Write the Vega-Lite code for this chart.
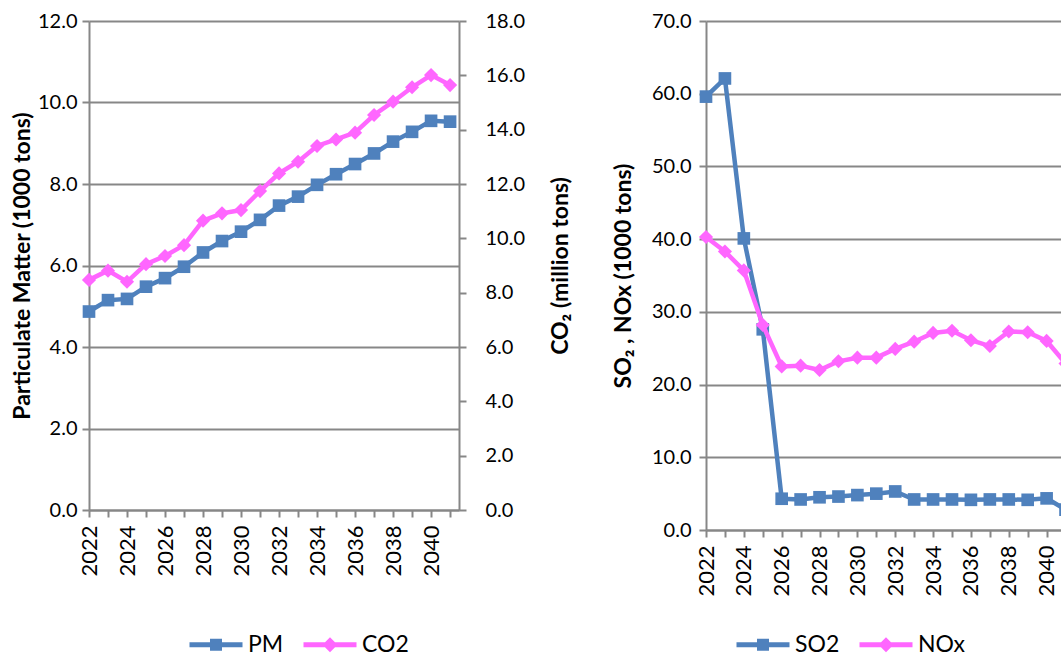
{
  "$schema": "https://vega.github.io/schema/vega-lite/v6.json",
  "padding": {"left": 10, "top": 11, "right": 0, "bottom": 0},
  "config": {
    "font": "Lato",
    "view": {"stroke": null},
    "axis": {
      "labelFont": "Lato", "labelFontSize": 20, "labelColor": "#000000",
      "titleFont": "Lato", "titleFontSize": 23, "titleFontWeight": "bold", "titleColor": "#000000",
      "domainColor": "#878787", "domainWidth": 2, "tickColor": "#878787", "tickWidth": 2, "tickSize": 7,
      "gridColor": "#878787", "gridWidth": 2
    },
    "legend": {"labelFont": "Lato", "labelFontSize": 23, "labelColor": "#000000"},
    "concat": {"spacing": 40}
  },
  "data": {"values": [
    {"year": 2022, "series": "PM", "value": 4.87}, {"year": 2023, "series": "PM", "value": 5.15}, {"year": 2024, "series": "PM", "value": 5.18}, {"year": 2025, "series": "PM", "value": 5.48}, {"year": 2026, "series": "PM", "value": 5.69}, {"year": 2027, "series": "PM", "value": 5.97}, {"year": 2028, "series": "PM", "value": 6.32}, {"year": 2029, "series": "PM", "value": 6.6}, {"year": 2030, "series": "PM", "value": 6.83}, {"year": 2031, "series": "PM", "value": 7.12}, {"year": 2032, "series": "PM", "value": 7.47}, {"year": 2033, "series": "PM", "value": 7.69}, {"year": 2034, "series": "PM", "value": 7.98}, {"year": 2035, "series": "PM", "value": 8.24}, {"year": 2036, "series": "PM", "value": 8.49}, {"year": 2037, "series": "PM", "value": 8.75}, {"year": 2038, "series": "PM", "value": 9.04}, {"year": 2039, "series": "PM", "value": 9.28}, {"year": 2040, "series": "PM", "value": 9.55}, {"year": 2041, "series": "PM", "value": 9.53},
    {"year": 2022, "series": "CO2", "value": 8.47}, {"year": 2023, "series": "CO2", "value": 8.81}, {"year": 2024, "series": "CO2", "value": 8.4}, {"year": 2025, "series": "CO2", "value": 9.05}, {"year": 2026, "series": "CO2", "value": 9.35}, {"year": 2027, "series": "CO2", "value": 9.75}, {"year": 2028, "series": "CO2", "value": 10.65}, {"year": 2029, "series": "CO2", "value": 10.92}, {"year": 2030, "series": "CO2", "value": 11.04}, {"year": 2031, "series": "CO2", "value": 11.74}, {"year": 2032, "series": "CO2", "value": 12.39}, {"year": 2033, "series": "CO2", "value": 12.82}, {"year": 2034, "series": "CO2", "value": 13.4}, {"year": 2035, "series": "CO2", "value": 13.64}, {"year": 2036, "series": "CO2", "value": 13.89}, {"year": 2037, "series": "CO2", "value": 14.54}, {"year": 2038, "series": "CO2", "value": 15.03}, {"year": 2039, "series": "CO2", "value": 15.56}, {"year": 2040, "series": "CO2", "value": 16.01}, {"year": 2041, "series": "CO2", "value": 15.64},
    {"year": 2022, "series": "SO2", "value": 59.6}, {"year": 2023, "series": "SO2", "value": 62.1}, {"year": 2024, "series": "SO2", "value": 40.1}, {"year": 2025, "series": "SO2", "value": 27.6}, {"year": 2026, "series": "SO2", "value": 4.3}, {"year": 2027, "series": "SO2", "value": 4.2}, {"year": 2028, "series": "SO2", "value": 4.5}, {"year": 2029, "series": "SO2", "value": 4.6}, {"year": 2030, "series": "SO2", "value": 4.8}, {"year": 2031, "series": "SO2", "value": 5.0}, {"year": 2032, "series": "SO2", "value": 5.3}, {"year": 2033, "series": "SO2", "value": 4.2}, {"year": 2034, "series": "SO2", "value": 4.2}, {"year": 2035, "series": "SO2", "value": 4.2}, {"year": 2036, "series": "SO2", "value": 4.15}, {"year": 2037, "series": "SO2", "value": 4.2}, {"year": 2038, "series": "SO2", "value": 4.2}, {"year": 2039, "series": "SO2", "value": 4.15}, {"year": 2040, "series": "SO2", "value": 4.35}, {"year": 2041, "series": "SO2", "value": 2.8},
    {"year": 2022, "series": "NOx", "value": 40.3}, {"year": 2023, "series": "NOx", "value": 38.3}, {"year": 2024, "series": "NOx", "value": 35.7}, {"year": 2025, "series": "NOx", "value": 28.2}, {"year": 2026, "series": "NOx", "value": 22.5}, {"year": 2027, "series": "NOx", "value": 22.6}, {"year": 2028, "series": "NOx", "value": 22.0}, {"year": 2029, "series": "NOx", "value": 23.2}, {"year": 2030, "series": "NOx", "value": 23.7}, {"year": 2031, "series": "NOx", "value": 23.7}, {"year": 2032, "series": "NOx", "value": 24.9}, {"year": 2033, "series": "NOx", "value": 25.9}, {"year": 2034, "series": "NOx", "value": 27.1}, {"year": 2035, "series": "NOx", "value": 27.4}, {"year": 2036, "series": "NOx", "value": 26.1}, {"year": 2037, "series": "NOx", "value": 25.3}, {"year": 2038, "series": "NOx", "value": 27.3}, {"year": 2039, "series": "NOx", "value": 27.2}, {"year": 2040, "series": "NOx", "value": 26.0}, {"year": 2041, "series": "NOx", "value": 22.9}
  ]},
  "hconcat": [
    {
      "width": 370,
      "height": 489,
      "encoding": {
        "x": {"field": "year", "type": "quantitative",
          "scale": {"domain": [2022, 2041.47], "nice": false, "zero": false},
          "axis": {"title": null, "values": [2022,2023,2024,2025,2026,2027,2028,2029,2030,2031,2032,2033,2034,2035,2036,2037,2038,2039,2040,2041],
            "labelExpr": "datum.value % 2 == 0 ? datum.label : ''", "format": "d", "labelAngle": -90, "labelFontSize": 22,
            "grid": false, "labelPadding": 8, "labelFlush": false, "labelOverlap": false, "labelBound": false}},
        "color": {"field": "series", "type": "nominal",
          "scale": {"domain": ["PM", "CO2"], "range": ["#4F81BD", "#FF66FF"]},
          "legend": {"orient": "none", "legendX": 99, "legendY": 612, "title": null, "direction": "horizontal", "symbolSize": 400, "labelOffset": 37, "columnPadding": 18,
            "encode": {"symbols": {"update": {
              "shape": {"signal": "datum.value == 'PM' ? 'M-1,-0.25H4.3V0.25H-1Z M1.05,-0.6H2.25V0.6H1.05Z' : 'M-1,-0.25H4.3V0.25H-1Z M1.65,-0.75L2.4,0L1.65,0.75L0.9,0Z'"},
              "fill": {"signal": "datum.value == 'PM' ? '#4F81BD' : '#FF66FF'"},
              "strokeWidth": {"value": 0}, "opacity": {"value": 1}, "fillOpacity": {"value": 1}}}}}}
      },
      "layer": [
        {
          "transform": [{"filter": "datum.series == 'PM'"}],
          "encoding": {"y": {"field": "value", "type": "quantitative", "scale": {"domain": [0, 12], "nice": false},
            "axis": {"orient": "left", "title": "Particulate Matter (1000 tons)", "values": [0,2,4,6,8,10,12], "format": ".1f", "grid": true,
              "labelPadding": 5, "titleX": -67, "titleY": 244.5, "titleAngle": 270, "titleBaseline": "middle", "titleAlign": "center"}}},
          "layer": [
            {"mark": {"type": "line", "strokeWidth": 4.5}},
            {"mark": {"type": "point", "shape": "square", "filled": true, "size": 160, "opacity": 1}}
          ]
        },
        {
          "transform": [{"filter": "datum.series == 'CO2'"}],
          "encoding": {"y": {"field": "value", "type": "quantitative", "scale": {"domain": [0, 18], "nice": false},
            "axis": {"orient": "right", "title": "CO₂ (million  tons)", "values": [0,2,4,6,8,10,12,14,16,18], "format": ".1f", "grid": false,
              "labelPadding": 19, "titleX": 101, "titleY": 244.5, "titleAngle": 270, "titleBaseline": "middle", "titleAlign": "center"}}},
          "layer": [
            {"mark": {"type": "line", "strokeWidth": 4.5}},
            {"mark": {"type": "point", "shape": "diamond", "filled": true, "size": 200, "opacity": 1}}
          ]
        }
      ],
      "resolve": {"scale": {"y": "independent"}}
    },
    {
      "width": 369,
      "height": 509,
      "encoding": {
        "x": {"field": "year", "type": "quantitative",
          "scale": {"domain": [2022, 2041.5], "nice": false, "zero": false},
          "axis": {"title": null, "values": [2022,2023,2024,2025,2026,2027,2028,2029,2030,2031,2032,2033,2034,2035,2036,2037,2038,2039,2040,2041],
            "labelExpr": "datum.value % 2 == 0 ? datum.label : ''", "format": "d", "labelAngle": -90, "labelFontSize": 22,
            "grid": false, "labelPadding": 8, "labelFlush": false, "labelOverlap": false, "labelBound": false}},
        "y": {"field": "value", "type": "quantitative", "scale": {"domain": [0, 70], "nice": false},
          "axis": {"orient": "left", "title": "SO₂ , NOx (1000 tons)", "values": [0,10,20,30,40,50,60,70], "format": ".1f", "grid": true,
            "labelPadding": 8, "titleX": -83, "titleY": 254.5, "titleAngle": 270, "titleBaseline": "middle", "titleAlign": "center"}},
        "color": {"field": "series", "type": "nominal",
          "scale": {"domain": ["SO2", "NOx"], "range": ["#4F81BD", "#FF66FF"]},
          "legend": {"orient": "none", "legendX": 29, "legendY": 612, "title": null, "direction": "horizontal", "symbolSize": 400, "labelOffset": 37, "columnPadding": 18,
            "encode": {"symbols": {"update": {
              "shape": {"signal": "datum.value == 'SO2' ? 'M-1,-0.25H4.3V0.25H-1Z M1.05,-0.6H2.25V0.6H1.05Z' : 'M-1,-0.25H4.3V0.25H-1Z M1.65,-0.75L2.4,0L1.65,0.75L0.9,0Z'"},
              "fill": {"signal": "datum.value == 'SO2' ? '#4F81BD' : '#FF66FF'"},
              "strokeWidth": {"value": 0}, "opacity": {"value": 1}, "fillOpacity": {"value": 1}}}}}}
      },
      "layer": [
        {
          "transform": [{"filter": "datum.series == 'SO2'"}],
          "layer": [
            {"mark": {"type": "line", "strokeWidth": 4.5}},
            {"mark": {"type": "point", "shape": "square", "filled": true, "size": 160, "opacity": 1}}
          ]
        },
        {
          "transform": [{"filter": "datum.series == 'NOx'"}],
          "layer": [
            {"mark": {"type": "line", "strokeWidth": 4.5}},
            {"mark": {"type": "point", "shape": "diamond", "filled": true, "size": 200, "opacity": 1}}
          ]
        }
      ]
    }
  ],
  "resolve": {"scale": {"color": "independent"}, "legend": {"color": "independent"}}
}
